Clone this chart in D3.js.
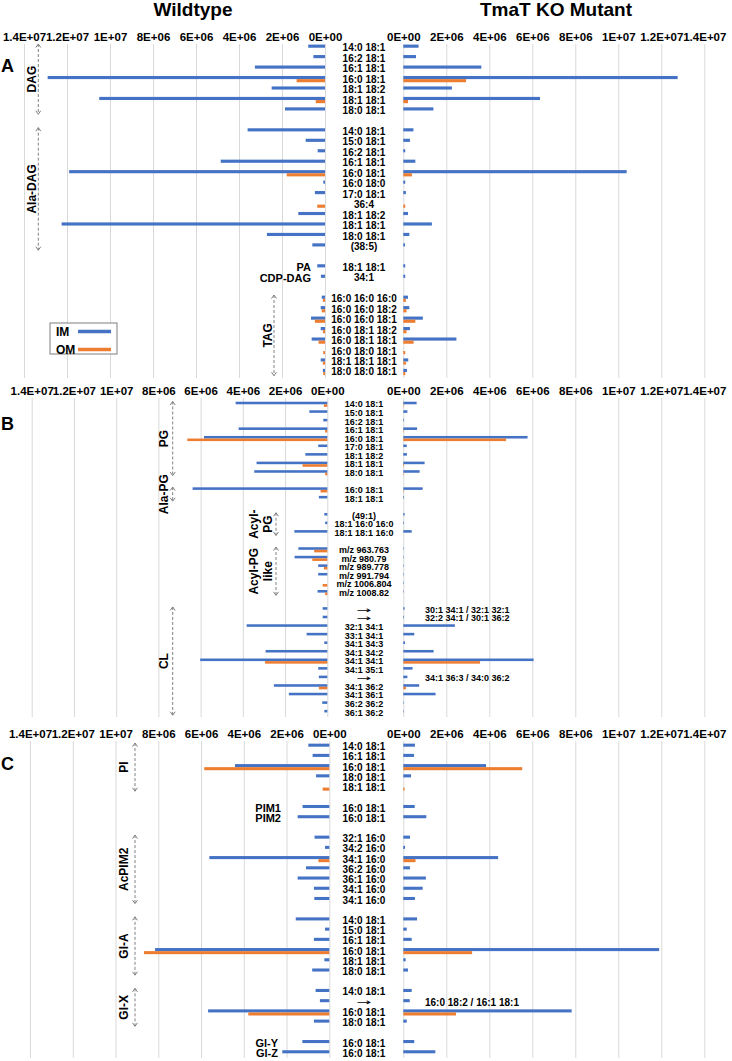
<!DOCTYPE html>
<html><head><meta charset="utf-8">
<script src="https://cdn.jsdelivr.net/npm/d3@7"></script>
<style>
body{margin:0;background:#fff;}
svg{display:block;font-family:"Liberation Sans",Arial,sans-serif;font-weight:bold;}
</style></head><body>
<svg id="c" width="732" height="1061"></svg>
<script>
// ---------- shared ----------
const tickValues = [0, 2e6, 4e6, 6e6, 8e6, 1e7, 1.2e7, 1.4e7];
const tickLabels = ["0E+00","2E+06","4E+06","6E+06","8E+06","1E+07","1.2E+07","1.4E+07"];
const seriesNames = ["IM", "OM"];
const titles = ["Wildtype", "TmaT KO Mutant"];
const M = 1e6;

// ---------- Panel A (values in units of 1E+06) ----------
const catsA = ["14:0 18:1","16:2 18:1","16:1 18:1","16:0 18:1","18:1 18:2","18:1 18:1","18:0 18:1","",
  "14:0 18:1","15:0 18:1","16:2 18:1","16:1 18:1","16:0 18:1","16:0 18:0","17:0 18:1","36:4","18:1 18:2","18:1 18:1","18:0 18:1","(38:5)","",
  "18:1 18:1","34:1","",
  "16:0 16:0 16:0","16:0 16:0 18:2","16:0 16:0 18:1","16:0 18:1 18:2","16:0 18:1 18:1","16:0 18:0 18:1","18:1 18:1 18:1","18:0 18:0 18:1"];
const wtIM_A = [0.78,0.54,3.26,12.9,2.48,10.5,1.86,null, 3.6,0.9,0.34,4.85,11.9,0.08,0.47,0,1.24,12.25,2.7,0.59,null, 0.36,0.19,null, 0.15,0.2,0.65,0.2,0.62,0,0.2,0.1];
const wtOM_A = [0,0,0,1.32,0,0.43,0,null, 0,0,0,0,1.78,0,0,0.36,0,0,0,0,null, 0,0,null, 0.1,0.15,0.47,0.1,0.3,0.08,0.1,0.08];
const koIM_A = [0.71,0.59,3.63,12.76,2.26,6.36,1.4,null, 0.47,0.31,0.09,0.56,10.39,0.09,0.12,0,0.22,1.33,0.28,0.08,null, 0.09,0.09,null, 0.22,0.28,0.91,0.31,2.47,0,0.23,0.17];
const koOM_A = [0,0,0,2.92,0,0.22,0,null, 0,0,0,0,0.4,0,0,0.09,0,0,0,0,null, 0,0,null, 0.12,0.15,0.56,0.15,0.48,0.09,0.12,0.09];
const groupsA = [["DAG",0,6],["Ala-DAG",8,19],["TAG",24,31]];
const sideA = [["PA",21],["CDP-DAG",22]];
const notesA = [];

// ---------- Panel B ----------
const catsB = ["14:0 18:1","15:0 18:1","16:2 18:1","16:1 18:1","16:0 18:1","17:0 18:1","18:1 18:2","18:1 18:1","18:0 18:1","",
  "16:0 18:1","18:1 18:1","",
  "(49:1)","18:1 16:0 16:0","18:1 18:1 16:0","",
  "m/z 963.763","m/z 980.79","m/z 989.778","m/z 991.794","m/z 1006.804","m/z 1008.82","",
  "→","→","32:1 34:1","33:1 34:1","34:1 34:3","34:1 34:2","34:1 34:1","34:1 35:1","→","34:1 36:2","34:1 36:1","36:2 36:2","36:1 36:2"];
const wtIM_B = [4.34,0.85,0.19,4.2,5.84,0.43,1.04,3.35,3.46,null, 6.38,0.4,null, 0.14,0.1,1.56,null, 1.37,1.55,0.43,0.43,0,0.46,null, 0.22,0.22,3.82,0.98,0.14,2.92,6.02,0.43,0.4,2.53,1.82,0.24,0.14];
const wtOM_B = [0.16,0,0,0.1,6.63,0,0,1.17,0.1,null, 0.32,0,null, 0,0,0,null, 0.62,0.71,0.16,0,0.22,0.1,null, 0,0,0,0,0,0,2.95,0,0,0.4,0,0,0];
const koIM_B = [0.62,0.19,0.03,0.64,5.78,0.16,0.17,0.99,0.76,null, 0.9,0.03,null, 0.06,0.03,0.39,null, 0.02,0.02,0.02,0.02,0.02,0.02,null, 0.06,0.03,2.4,0.51,0.08,1.41,6.06,0.43,0.19,0.74,1.5,0.02,0.02];
const koOM_B = [0.02,0,0,0.02,4.78,0,0,0.03,0.02,null, 0.02,0,null, 0,0,0,null, 0,0,0,0,0,0,null, 0,0,0,0,0,0,3.57,0,0,0.12,0,0,0];
const groupsB = [["PG",0,8],["Ala-PG",10,11],["Acyl-|PG",13,15],["Acyl-PG|like",17,22],["CL",24,36]];
const sideB = [];
const notesB = [["30:1 34:1 / 32:1 32:1",24],["32:2 34:1 / 30:1 36:2",25],["34:1 36:3 / 34:0 36:2",32]];

// ---------- Panel C ----------
const catsC = ["14:0 18:1","16:1 18:1","16:0 18:1","18:0 18:1","18:1 18:1","",
  "16:0 18:1","16:0 18:1","",
  "32:1 16:0","34:2 16:0","34:1 16:0","36:2 16:0","36:1 16:0","34:1 16:0","34:1 16:0","",
  "14:0 18:1","15:0 18:1","16:1 18:1","16:0 18:1","18:1 18:1","18:0 18:1","",
  "14:0 18:1","→","16:0 18:1","18:0 18:1","",
  "16:0 18:1","16:0 18:1"];
const wtIM_C = [0.98,0.78,4.41,0.62,0,null, 1.25,1.48,null, 0.69,0.2,5.61,1.09,1.48,0.72,0.7,null, 1.57,0.2,0.72,8.15,0.23,0.8,null, 0.64,0.44,5.67,0.72,null, 1.26,2.2];
const wtOM_C = [0,0,5.85,0,0.31,null, 0,0,null, 0,0,0.51,0,0,0,0,null, 0,0,0,8.67,0,0,null, 0,0,3.79,0,null, 0,0];
const koIM_C = [0.54,0.5,3.85,0.36,0,null, 0.53,1.07,null, 0.31,0.08,4.41,0.31,1.05,0.9,0.54,null, 0.64,0.16,0.39,11.9,0.11,0.22,null, 0.39,0.3,7.83,0.16,null, 0.51,1.49];
const koOM_C = [0,0,5.53,0,0.06,null, 0,0,null, 0,0,0.57,0,0,0,0,null, 0,0,0,3.2,0,0,null, 0,0,2.45,0,null, 0,0];
const groupsC = [["PI",0,4],["AcPIM2",9,15],["Gl-A",17,22],["Gl-X",24,27]];
const sideC = [["PIM1",6],["PIM2",7],["Gl-Y",29],["Gl-Z",30]];
const notesC = [["16:0 18:2 / 16:1 18:1",25]];

// ---------- layout ----------
const colors = {IM:"#4472C4", OM:"#ED7D31"};
const panels = [
  {letter:"A", letterY:72, cats:catsA, wt:[wtIM_A,wtOM_A], ko:[koIM_A,koOM_A], groups:groupsA, side:sideA, notes:notesA,
   top:42.5, step:10.46, gridTop:44, gridBottom:378, left:[325,24], labelFont:10, noteFont:10,
   grpX:{"DAG":[32,38.3],"Ala-DAG":[32,38.3],"TAG":[268,274]}, sideX:311},
  {letter:"B", letterY:430, cats:catsB, wt:[wtIM_B,wtOM_B], ko:[koIM_B,koOM_B], groups:groupsB, side:sideB, notes:notesB,
   top:400, step:8.56, gridTop:398, gridBottom:717, left:[327.3,31.7], labelFont:9, noteFont:9,
   grpX:{"PG":[164,172.7],"Ala-PG":[164,172.7],"Acyl-|PG":[261,276],"Acyl-PG|like":[261,276],"CL":[164,172.7]}, sideX:311},
  {letter:"C", letterY:770, cats:catsC, wt:[wtIM_C,wtOM_C], ko:[koIM_C,koOM_C], groups:groupsC, side:sideC, notes:notesC,
   top:741.6, step:10.22, gridTop:741, gridBottom:1058, left:[329.3,30], labelFont:10, noteFont:10,
   grpX:{"PI":[124,135],"AcPIM2":[124,135],"Gl-A":[124,135],"Gl-X":[124,135]}, sideX:{"PIM1":281,"PIM2":281,"Gl-Y":278,"Gl-Z":278}}
];
const rightRange = [403.3, 704.3];
const midX = 364;

const svg = d3.select("#c");

// titles
svg.append("text").attr("x",193).attr("y",16).attr("text-anchor","middle").attr("font-size",19).text(titles[0]);
svg.append("text").attr("x",556).attr("y",16).attr("text-anchor","middle").attr("font-size",19).text(titles[1]);

panels.forEach(p => {
  const n = p.cats.length;
  const g = svg.append("g");
  const y = d3.scaleBand().domain(d3.range(n)).range([p.top, p.top + n*p.step]);
  const sub = d3.scaleBand().domain(seriesNames).range([0.2*p.step, 0.8*p.step]);
  const xL = d3.scaleLinear().domain([0,1.4e7]).range(p.left);
  const xR = d3.scaleLinear().domain([0,1.4e7]).range(rightRange);

  // axes + gridlines
  [xL, xR].forEach(x => {
    const ax = d3.axisTop(x).tickValues(tickValues)
      .tickFormat((d,i) => tickLabels[i])
      .tickSize(-(p.gridBottom - p.gridTop)).tickPadding(3);
    const a = g.append("g").attr("transform",`translate(0,${p.gridTop})`).call(ax);
    a.select(".domain").remove();
    a.selectAll(".tick line").attr("stroke","#d9d9d9");
    a.selectAll(".tick text").attr("font-size",11.5).attr("font-weight","bold")
      .attr("font-family","'Liberation Sans',Arial,sans-serif").attr("fill","#000");
  });

  // bars
  const rows = d3.range(n);
  seriesNames.forEach((s, si) => {
    g.append("g").selectAll("rect").data(rows.filter(i => p.wt[si][i])).join("rect")
      .attr("x", i => xL(p.wt[si][i]*M)).attr("width", i => xL(0) - xL(p.wt[si][i]*M))
      .attr("y", i => y(i) + sub(s)).attr("height", sub.bandwidth()).attr("fill", colors[s]);
    g.append("g").selectAll("rect").data(rows.filter(i => p.ko[si][i])).join("rect")
      .attr("x", xR(0)).attr("width", i => xR(p.ko[si][i]*M) - xR(0))
      .attr("y", i => y(i) + sub(s)).attr("height", sub.bandwidth()).attr("fill", colors[s]);
  });

  // category labels
  rows.forEach(i => {
    const c = p.cats[i];
    if (!c) return;
    const t = g.append("text").attr("x", midX).attr("y", y(i) + p.step/2).attr("dy","0.35em")
      .attr("text-anchor","middle").attr("font-size", p.labelFont).text(c);
    if (c === "→") {
      t.attr("font-family","'DejaVu Sans',sans-serif").attr("font-weight","normal").attr("font-size",9)
       .attr("textLength",15).attr("lengthAdjust","spacingAndGlyphs").attr("x", midX - 7.5).attr("text-anchor","start");
    }
  });
  p.notes.forEach(([txt, i]) => {
    g.append("text").attr("x",425).attr("y", y(i) + p.step/2).attr("dy","0.35em")
      .attr("font-size",p.noteFont).text(txt);
  });

  // side group labels (horizontal)
  p.side.forEach(([txt, i]) => {
    const sx = typeof p.sideX === "number" ? p.sideX : p.sideX[txt];
    g.append("text").attr("x", sx).attr("y", y(i) + p.step/2).attr("dy","0.35em")
      .attr("text-anchor","end").attr("font-size",11).text(txt);
  });

  // rotated group labels with dashed arrows
  p.groups.forEach(([name, a, b]) => {
    const [tx, lx] = p.grpX[name];
    const y1 = y(a) + 1.5, y2 = y(b) + p.step - 1.5;
    g.append("line").attr("x1",lx).attr("x2",lx).attr("y1",y1).attr("y2",y2)
      .attr("stroke","#808080").attr("stroke-width",1).attr("stroke-dasharray","3,2");
    g.append("path").attr("d",`M${lx-2.5},${y1+3.5}L${lx},${y1}L${lx+2.5},${y1+3.5}`)
      .attr("fill","none").attr("stroke","#808080").attr("stroke-width",1);
    g.append("path").attr("d",`M${lx-2.5},${y2-3.5}L${lx},${y2}L${lx+2.5},${y2-3.5}`)
      .attr("fill","none").attr("stroke","#808080").attr("stroke-width",1);
    const cy = (y1 + y2)/2;
    const lines = name.split("|");
    const t = g.append("text").attr("transform",`translate(${tx},${cy}) rotate(-90)`)
      .attr("text-anchor","middle").attr("font-size",12);
    lines.forEach((ln, k) => {
      t.append("tspan").attr("x",0).attr("y", (k - (lines.length-1)/2) * 14).attr("dy","0.35em").text(ln);
    });
  });

  // panel letter
  svg.append("text").attr("x",1).attr("y",p.letterY).attr("font-size",18).text(p.letter);

  // legend (panel A)
  if (p.letter === "A") {
    const lg = g.append("g");
    lg.append("rect").attr("x",50).attr("y",323).attr("width",67).attr("height",31)
      .attr("fill","#fff").attr("stroke","#7f7f7f").attr("stroke-width",1);
    seriesNames.forEach((s, k) => {
      const ly = 332 + k*18;
      lg.append("text").attr("x",56).attr("y",ly).attr("dy","0.35em").attr("font-size",12).text(s);
      lg.append("line").attr("x1",78).attr("x2",111).attr("y1",ly-0.5).attr("y2",ly-0.5)
        .attr("stroke",colors[s]).attr("stroke-width",3.5);
    });
  }
});
</script>
</body></html>
